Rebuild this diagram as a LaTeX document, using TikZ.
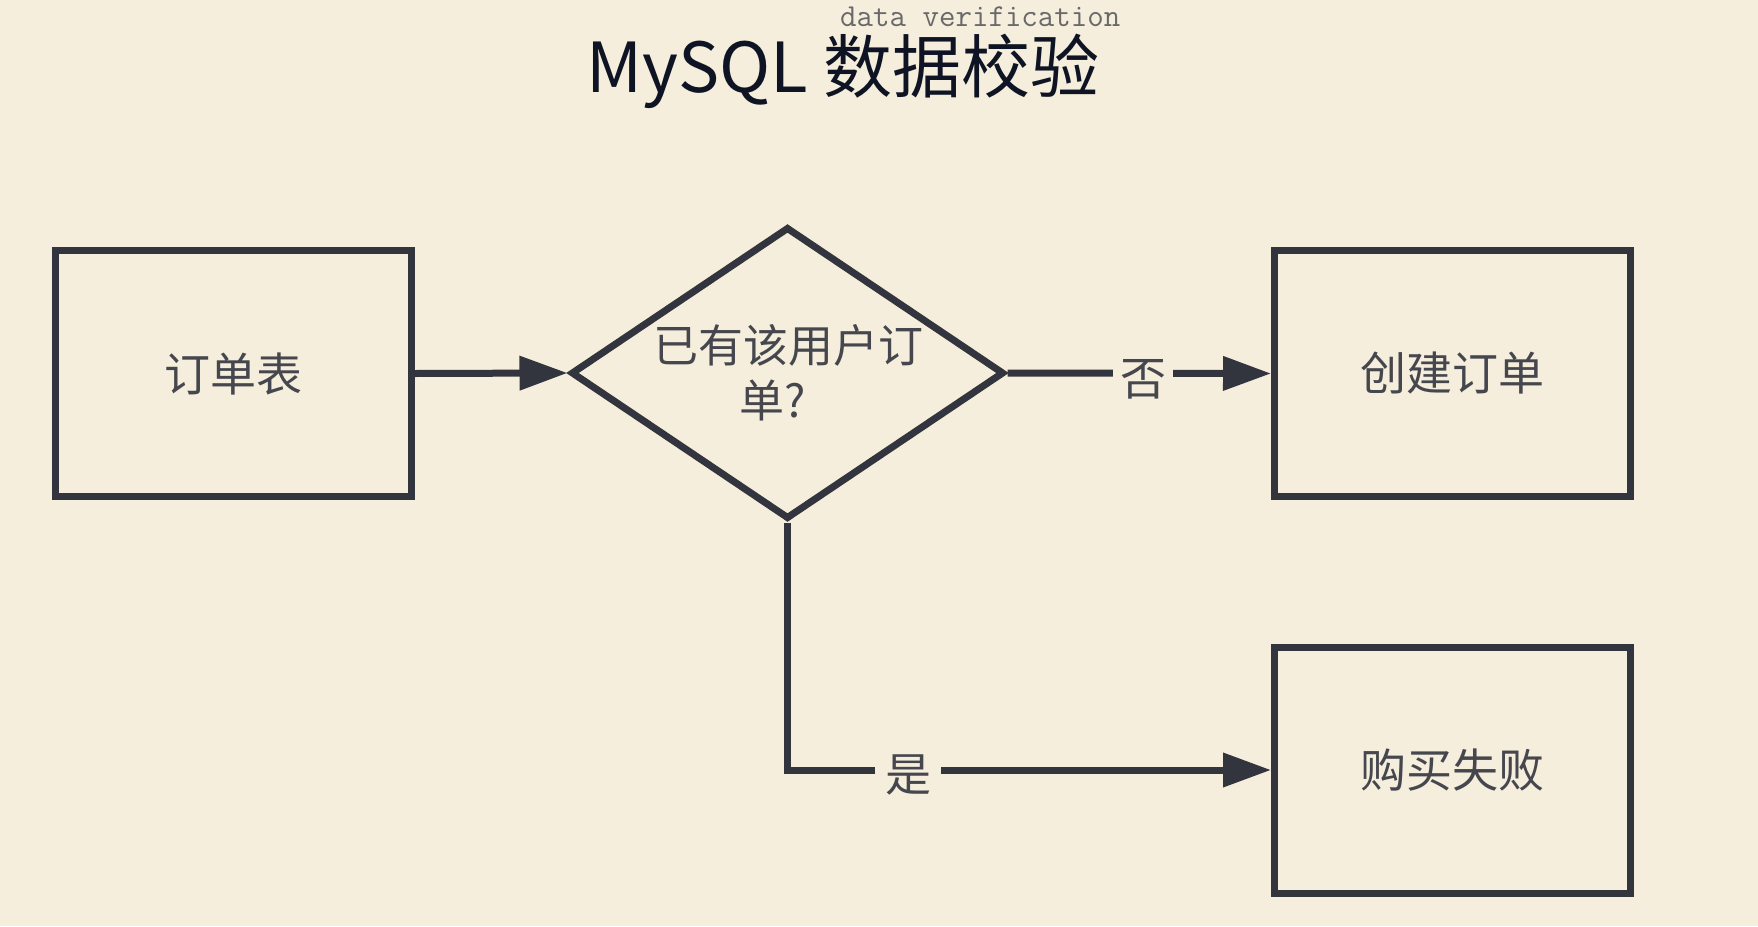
\documentclass[tikz,border=0pt]{standalone}
\usepackage{fontspec}
\newfontfamily\cjk{Noto Sans CJK SC}
\usetikzlibrary{arrows.meta,shapes.geometric}
\definecolor{bg}{RGB}{245,238,220}
\definecolor{ln}{RGB}{50,52,62}
\definecolor{tx}{RGB}{70,71,78}
\definecolor{ttl}{RGB}{14,20,36}
\definecolor{subc}{RGB}{105,105,105}
\begin{document}
\begin{tikzpicture}[x=1pt,y=-1pt,
 box/.style={draw=ln,line width=7pt,minimum width=356pt,minimum height=246pt,inner sep=0pt,font=\cjk\fontsize{46}{50}\selectfont,text=tx},
 dia/.style={draw=ln,line width=7pt,diamond,minimum width=433pt,minimum height=292pt,inner sep=0pt},
 conn/.style={draw=ln,line width=7pt,-{Triangle[length=48pt,width=33pt]}},
 lbl/.style={fill=bg,font=\cjk\fontsize{46}{50}\selectfont,text=tx,inner xsep=7pt,inner ysep=2pt}
]
\fill[bg] (0,0) rectangle (1758,926);
\useasboundingbox (0,0) rectangle (1758,926);

\node[anchor=base,inner sep=0pt,font=\cjk\fontsize{69}{80}\selectfont,text=ttl] (title) at (843,92) {MySQL 数据校验};
\node[anchor=base west,inner sep=0pt,font=\ttfamily\fontsize{32}{34}\selectfont,text=subc] (sub) at (840,27) {data verification};

\node[box] (tbl) at (233.5,373.5) {订单表};
\node[dia] (q) at (787.5,373) {};
\node[align=center,font=\cjk\fontsize{45}{55}\selectfont,text=tx,inner sep=0pt] (qt) at (788,373) {已有该用户订\\单?\hspace*{30pt}};
\node[box] (create) at (1452.5,373.5) {创建订单};
\node[box] (fail) at (1452.5,770) {购买失败};

\draw[conn] (tbl.east) -- (q.west);
\draw[conn] (q.east) -- node[lbl,pos=0.515,yshift=-6pt] (no) {否} (create.west);
\draw[conn] (q.south) |- node[lbl,pos=0.625,yshift=-5pt,inner xsep=10pt] (yes) {是} (fail.west);
\end{tikzpicture}
\end{document}
